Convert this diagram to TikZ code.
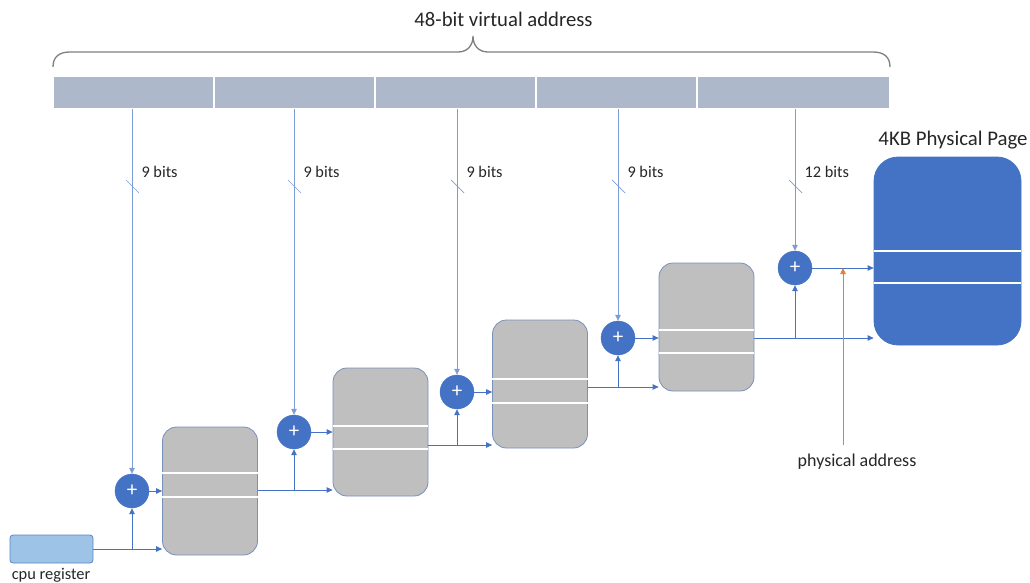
\documentclass[tikz,border=0pt]{standalone}
\usepackage{fontspec}
\setmainfont{Carlito}
\usetikzlibrary{arrows.meta,calc}
\definecolor{lnblue}{HTML}{4472C4}
\definecolor{vblue}{HTML}{7C9CD8}
\definecolor{barfill}{HTML}{ADB9CA}
\definecolor{grayfill}{HTML}{BFBFBF}
\definecolor{boxedge}{HTML}{7A90BC}
\definecolor{regfill}{HTML}{9DC3E6}
\definecolor{regedge}{HTML}{5B87C5}
\definecolor{pagefill}{HTML}{4472C4}
\definecolor{orng}{HTML}{ED7D31}
\definecolor{bracegray}{HTML}{7F7F7F}
\definecolor{txt}{HTML}{262626}
\tikzset{
  arr/.style={draw=lnblue, line width=0.8pt, -{Triangle[length=6pt,width=5.5pt]}},
  vline/.style={draw=vblue, line width=0.8pt, -{Triangle[length=6pt,width=5.5pt]}},
  seg/.style={fill=barfill, draw=white, line width=1.2pt, minimum height=33pt, inner sep=0pt, outer sep=0pt},
  tbl/.style={fill=grayfill, draw=boxedge, line width=0.8pt, rounded corners=14pt, minimum width=95pt, minimum height=128pt, inner sep=0pt},
  adder/.style={circle, fill=lnblue, draw=lnblue, minimum size=34pt, inner sep=0pt, text=white, font=\fontsize{21}{21}\selectfont},
  slash/.style={draw=vblue, line width=0.7pt},
  bitlbl/.style={anchor=west, font=\fontsize{16.3}{18}\selectfont, text=txt},
  sep/.style={draw=white, line width=1.5pt}
}
\begin{document}
\begin{tikzpicture}[x=1pt,y=-1pt]
\useasboundingbox (0,0) rectangle (1030,583);
% title and brace
\node[font=\fontsize{20.7}{23}\selectfont, text=txt] (title) at (503.5,19) {48-bit virtual address};
\draw[bracegray, line width=1.3pt] (53,67) .. controls (53,57) and (59,52) .. (70,52) -- (458,52) .. controls (467,52) and (473,46) .. (473,36) .. controls (473,46) and (479,52) .. (488,52) -- (873,52) .. controls (884,52) and (890,57) .. (890,67);
% address bar
\node[seg, minimum width=161pt] (s1) at (133.5,92.5) {};
\node[seg, minimum width=161pt] (s2) at (294.5,92.5) {};
\node[seg, minimum width=161pt] (s3) at (455.5,92.5) {};
\node[seg, minimum width=161pt] (s4) at (616.5,92.5) {};
\node[seg, minimum width=193pt] (s5) at (793.5,92.5) {};
% tables
\node[tbl] (b1) at (210,491) {};
\node[tbl] (b2) at (380.5,432) {};
\node[tbl] (b3) at (540,384) {};
\node[tbl] (b4) at (706.5,327) {};
\node[fill=pagefill, draw=lnblue, line width=0.8pt, rounded corners=24pt, minimum width=147pt, minimum height=188pt, inner sep=0pt] (pg) at (947.5,251) {};
\draw[sep] (b1.west |- 0,473) -- (b1.east |- 0,473);
\draw[sep] (b1.west |- 0,497) -- (b1.east |- 0,497);
\draw[sep] (b2.west |- 0,426) -- (b2.east |- 0,426);
\draw[sep] (b2.west |- 0,449) -- (b2.east |- 0,449);
\draw[sep] (b3.west |- 0,379) -- (b3.east |- 0,379);
\draw[sep] (b3.west |- 0,403) -- (b3.east |- 0,403);
\draw[sep] (b4.west |- 0,330) -- (b4.east |- 0,330);
\draw[sep] (b4.west |- 0,353) -- (b4.east |- 0,353);
\draw[sep] (pg.west |- 0,251) -- (pg.east |- 0,251);
\draw[sep] (pg.west |- 0,283) -- (pg.east |- 0,283);
\node[font=\fontsize{20.8}{23}\selectfont, text=txt] (pgt) at (953,140) {4KB Physical Page};
% cpu register
\node[fill=regfill, draw=regedge, line width=0.8pt, rounded corners=3pt, minimum width=83pt, minimum height=28pt, inner sep=0pt] (reg) at (51.5,549) {};
\node[font=\fontsize{16.4}{18}\selectfont, text=txt] (regt) at (51,575) {cpu register};
% adders
\node[adder] (c1) at (132,491) {+};
\node[adder] (c2) at (294,432) {+};
\node[adder] (c3) at (457,392) {+};
\node[adder] (c4) at (618,338) {+};
\node[adder] (c5) at (795,268) {+};
% vertical lines from address bar
\draw[vline] (s1.south -| c1) -- (c1.north);
\draw[vline] (s2.south -| c2) -- (c2.north);
\draw[vline] (s3.south -| c3) -- (c3.north);
\draw[vline] (s4.south -| c4) -- (c4.north);
\draw[vline] (s5.south -| c5) -- (c5.north);
% slashes and labels
\foreach \n/\x/\t in {1/132/9 bits,2/294/9 bits,3/457/9 bits,4/618/9 bits,5/795/12 bits}{
  \draw[slash] (\x-6,180) -- (\x+7,193);
  \node[bitlbl] (bl\n) at (\x+6,172) {\t};
}
% adder to table
\draw[arr] (c1.east) -- (c1 -| b1.west);
\draw[arr] (c2.east) -- (c2 -| b2.west);
\draw[arr] (c3.east) -- (c3 -| b3.west);
\draw[arr] (c4.east) -- (c4 -| b4.west);
\draw[arr] (c5.east) -- (c5 -| pg.west);
% base addresses
\draw[arr] (reg.east) -- (reg -| b1.west);
\draw[arr] (c1 |- reg) -- (c1.south);
\draw[arr] (b1.east |- 0,490) -- (b2.west |- 0,490);
\draw[arr] (c2 |- 0,490) -- (c2.south);
\draw[arr] (b2.east |- 0,445) -- (b3.west |- 0,445);
\draw[arr] (c3 |- 0,445) -- (c3.south);
\draw[arr] (b3.east |- 0,387) -- (b4.west |- 0,387);
\draw[arr] (c4 |- 0,387) -- (c4.south);
\draw[arr] (b4.east |- 0,338) -- (pg.west |- 0,338);
\draw[arr] (c5 |- 0,338) -- (c5.south);
% physical address
\coordinate (pa) at (843,445);
\draw[draw=orng, line width=0.8pt, -{Triangle[length=6pt,width=5.5pt]}] (pa) -- (pa |- c5);
\node[font=\fontsize{18}{20}\selectfont, text=txt] (pat) at (857,462) {physical address};
\end{tikzpicture}
\end{document}
